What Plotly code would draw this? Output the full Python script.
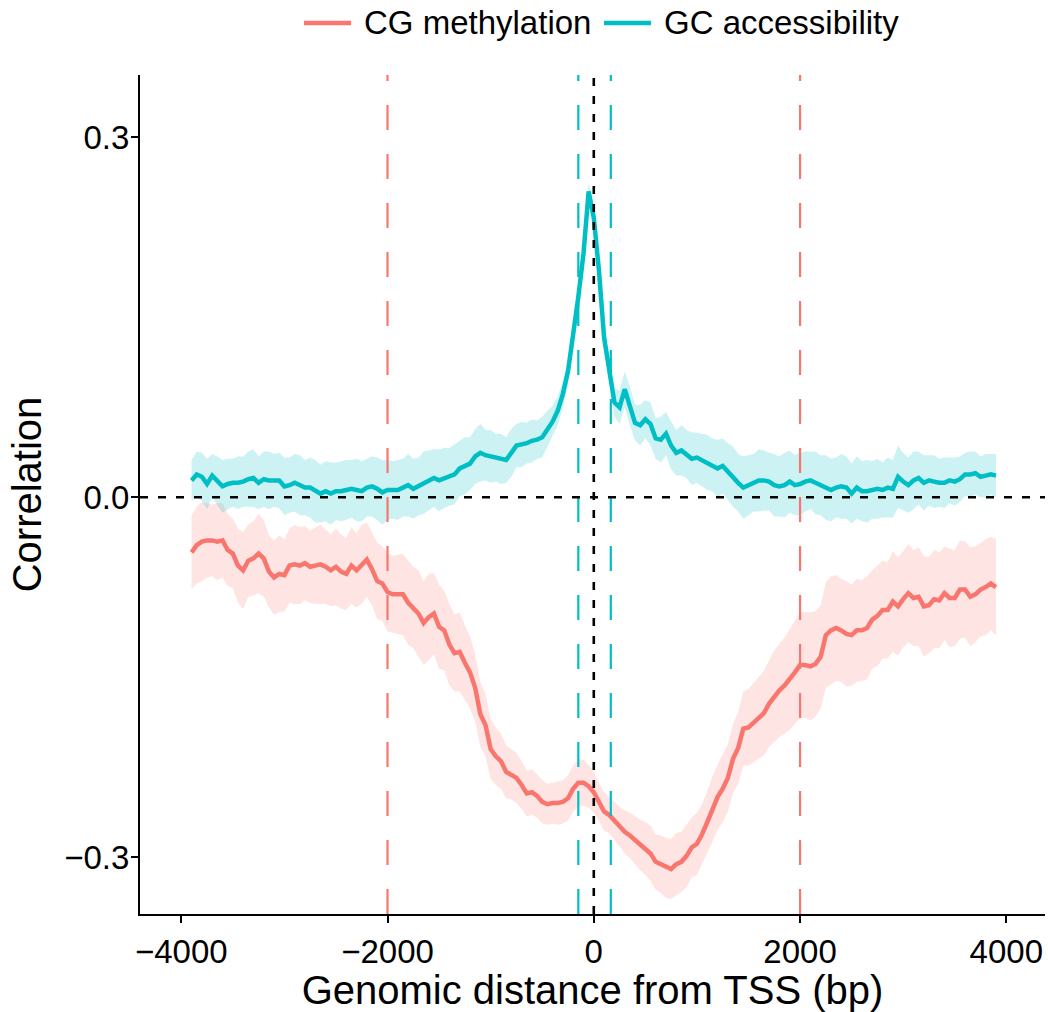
import plotly.graph_objects as go

# Genomic position of each window centre relative to the TSS (bp), 50 bp steps
positions = list(range(-3900, 3901, 50))

# Mean correlation of CG methylation with expression
cg_methylation = [
    -0.046, -0.040, -0.037, -0.036, -0.036, -0.037, -0.036, -0.044, -0.047, -0.057,
    -0.061, -0.053, -0.051, -0.047, -0.051, -0.062, -0.067, -0.064, -0.065, -0.057,
    -0.056, -0.057, -0.055, -0.058, -0.057, -0.056, -0.058, -0.061, -0.058, -0.062,
    -0.064, -0.057, -0.061, -0.056, -0.052, -0.060, -0.070, -0.072, -0.079, -0.081,
    -0.081, -0.081, -0.088, -0.092, -0.097, -0.105, -0.100, -0.097, -0.108, -0.111,
    -0.123, -0.130, -0.129, -0.138, -0.146, -0.159, -0.181, -0.190, -0.210, -0.216,
    -0.220, -0.229, -0.231, -0.234, -0.240, -0.247, -0.246, -0.249, -0.254, -0.256,
    -0.255, -0.255, -0.254, -0.251, -0.243, -0.238, -0.238, -0.241, -0.246, -0.254,
    -0.262, -0.265, -0.270, -0.275, -0.279, -0.282, -0.286, -0.290, -0.293, -0.297,
    -0.304, -0.306, -0.309, -0.310, -0.306, -0.304, -0.299, -0.292, -0.289, -0.281,
    -0.271, -0.260, -0.250, -0.243, -0.234, -0.218, -0.209, -0.193, -0.192, -0.188,
    -0.184, -0.180, -0.172, -0.166, -0.161, -0.157, -0.152, -0.146, -0.140, -0.140,
    -0.141, -0.139, -0.133, -0.115, -0.111, -0.109, -0.111, -0.114, -0.115, -0.111,
    -0.111, -0.109, -0.102, -0.099, -0.094, -0.094, -0.087, -0.091, -0.085, -0.080,
    -0.084, -0.083, -0.091, -0.090, -0.085, -0.086, -0.080, -0.084, -0.084, -0.077,
    -0.077, -0.083, -0.081, -0.077, -0.075, -0.072, -0.075,
]
cg_methylation_se = [
    0.031, 0.032, 0.033, 0.031, 0.030, 0.032, 0.031, 0.030, 0.029, 0.031,
    0.032, 0.030, 0.031, 0.033, 0.032, 0.030, 0.031, 0.032, 0.030, 0.031,
    0.033, 0.032, 0.031, 0.030, 0.032, 0.033, 0.031, 0.030, 0.032, 0.031,
    0.030, 0.032, 0.031, 0.033, 0.031, 0.030, 0.032, 0.031, 0.033, 0.032,
    0.033, 0.034, 0.035, 0.034, 0.036, 0.035, 0.036, 0.034, 0.035, 0.033,
    0.034, 0.032, 0.033, 0.031, 0.030, 0.028, 0.027, 0.026, 0.025, 0.024,
    0.023, 0.022, 0.021, 0.021, 0.020, 0.019, 0.019, 0.018, 0.018, 0.017,
    0.017, 0.018, 0.018, 0.019, 0.019, 0.020, 0.019, 0.018, 0.017, 0.016,
    0.016, 0.015, 0.016, 0.017, 0.018, 0.019, 0.020, 0.021, 0.022, 0.023,
    0.023, 0.024, 0.025, 0.025, 0.026, 0.025, 0.026, 0.025, 0.026, 0.025,
    0.026, 0.027, 0.027, 0.028, 0.028, 0.029, 0.030, 0.031, 0.032, 0.033,
    0.034, 0.035, 0.036, 0.038, 0.039, 0.040, 0.042, 0.043, 0.044, 0.044,
    0.045, 0.044, 0.043, 0.044, 0.045, 0.044, 0.043, 0.044, 0.042, 0.043,
    0.042, 0.043, 0.041, 0.042, 0.041, 0.040, 0.042, 0.041, 0.040, 0.041,
    0.040, 0.041, 0.042, 0.040, 0.041, 0.040, 0.039, 0.041, 0.040, 0.041,
    0.040, 0.041, 0.040, 0.039, 0.040, 0.039, 0.040,
]

# Mean correlation of GC accessibility with expression
gc_accessibility = [
    0.014, 0.019, 0.017, 0.011, 0.018, 0.014, 0.009, 0.011, 0.012, 0.012,
    0.013, 0.015, 0.016, 0.012, 0.015, 0.014, 0.014, 0.014, 0.009, 0.010,
    0.012, 0.010, 0.008, 0.008, 0.005, 0.003, 0.005, 0.003, 0.005, 0.005,
    0.006, 0.007, 0.006, 0.005, 0.008, 0.009, 0.007, 0.004, 0.006, 0.006,
    0.006, 0.008, 0.010, 0.007, 0.009, 0.012, 0.014, 0.016, 0.014, 0.016,
    0.017, 0.019, 0.024, 0.026, 0.028, 0.034, 0.037, 0.035, 0.034, 0.033,
    0.032, 0.031, 0.037, 0.043, 0.044, 0.045, 0.047, 0.048, 0.050, 0.057,
    0.063, 0.072, 0.086, 0.105, 0.133, 0.167, 0.203, 0.255, 0.233, 0.189,
    0.133, 0.105, 0.079, 0.075, 0.090, 0.076, 0.062, 0.060, 0.065, 0.061,
    0.049, 0.048, 0.053, 0.043, 0.037, 0.039, 0.036, 0.032, 0.033, 0.031,
    0.029, 0.027, 0.024, 0.026, 0.021, 0.017, 0.012, 0.008, 0.010, 0.012,
    0.014, 0.014, 0.013, 0.010, 0.009, 0.010, 0.013, 0.010, 0.011, 0.013,
    0.014, 0.012, 0.010, 0.008, 0.006, 0.008, 0.009, 0.008, 0.003, 0.008,
    0.005, 0.005, 0.006, 0.007, 0.006, 0.008, 0.007, 0.017, 0.013, 0.010,
    0.014, 0.016, 0.012, 0.014, 0.013, 0.012, 0.012, 0.014, 0.013, 0.015,
    0.019, 0.019, 0.020, 0.017, 0.018, 0.019, 0.018,
]
gc_accessibility_se = [
    0.017, 0.019, 0.020, 0.021, 0.018, 0.020, 0.022, 0.021, 0.020, 0.022,
    0.021, 0.023, 0.024, 0.022, 0.023, 0.024, 0.022, 0.023, 0.024, 0.023,
    0.024, 0.025, 0.023, 0.025, 0.026, 0.024, 0.025, 0.026, 0.024, 0.025,
    0.025, 0.024, 0.026, 0.025, 0.024, 0.025, 0.026, 0.027, 0.025, 0.024,
    0.025, 0.024, 0.026, 0.025, 0.024, 0.026, 0.025, 0.024, 0.026, 0.025,
    0.024, 0.025, 0.023, 0.024, 0.022, 0.023, 0.024, 0.021, 0.022, 0.020,
    0.021, 0.019, 0.020, 0.018, 0.019, 0.017, 0.018, 0.016, 0.017, 0.015,
    0.013, 0.012, 0.011, 0.010, 0.010, 0.009, 0.009, 0.008, 0.009, 0.010,
    0.010, 0.011, 0.012, 0.014, 0.015, 0.016, 0.015, 0.017, 0.016, 0.018,
    0.017, 0.019, 0.018, 0.020, 0.019, 0.021, 0.020, 0.022, 0.021, 0.022,
    0.023, 0.022, 0.024, 0.023, 0.024, 0.025, 0.024, 0.026, 0.025, 0.024,
    0.026, 0.025, 0.024, 0.026, 0.025, 0.027, 0.026, 0.025, 0.026, 0.025,
    0.024, 0.026, 0.025, 0.027, 0.026, 0.025, 0.027, 0.026, 0.025, 0.026,
    0.025, 0.026, 0.024, 0.025, 0.023, 0.025, 0.024, 0.026, 0.024, 0.023,
    0.024, 0.022, 0.023, 0.021, 0.022, 0.020, 0.021, 0.019, 0.020, 0.019,
    0.018, 0.019, 0.018, 0.017, 0.018, 0.017, 0.018,
]

# Window boundaries marked on the plot (bp)
cg_window = [-2000, 2000]
gc_window = [-150, 165]

# Axis ticks
x_ticks = [-4000, -2000, 0, 2000, 4000]
x_tick_labels = ["\u22124000", "\u22122000", "0", "2000", "4000"]
y_ticks = [-0.3, 0.0, 0.3]
y_tick_labels = ["\u22120.3", "0.0", "0.3"]

RED = "#F8766D"
TEAL = "#00BFC4"
FONT = "Liberation Sans, Arial, sans-serif"

fig = go.Figure()


def add_band(values, se, fill):
    lower = [v - s for v, s in zip(values, se)]
    upper = [v + s for v, s in zip(values, se)]
    fig.add_trace(go.Scatter(x=positions, y=lower, mode="lines",
                             line=dict(width=0, color=fill), showlegend=False,
                             hoverinfo="skip"))
    fig.add_trace(go.Scatter(x=positions, y=upper, mode="lines",
                             line=dict(width=0, color=fill), fill="tonexty",
                             fillcolor=fill, showlegend=False, hoverinfo="skip"))


add_band(cg_methylation, cg_methylation_se, "rgba(248,118,109,0.2)")
add_band(gc_accessibility, gc_accessibility_se, "rgba(0,191,196,0.2)")

fig.add_trace(go.Scatter(x=positions, y=cg_methylation, mode="lines",
                         name="CG methylation", showlegend=False,
                         line=dict(color=RED, width=4.5)))
fig.add_trace(go.Scatter(x=positions, y=gc_accessibility, mode="lines",
                         name="GC accessibility", showlegend=False,
                         line=dict(color=TEAL, width=4.5)))

shapes = []
for xv in cg_window:
    shapes.append(dict(type="line", xref="x", yref="paper", x0=xv, x1=xv,
                       y0=0, y1=1, layer="above",
                       line=dict(color=RED, width=2.2, dash="25px,24px")))
for xv in gc_window:
    shapes.append(dict(type="line", xref="x", yref="paper", x0=xv, x1=xv,
                       y0=0, y1=1, layer="above",
                       line=dict(color=TEAL, width=2.2, dash="25px,24px")))
# TSS and zero-correlation reference lines
shapes.append(dict(type="line", xref="x", yref="paper", x0=0, x1=0, y0=0, y1=1,
                   layer="above",
                   line=dict(color="black", width=2.6, dash="8px,10px")))
shapes.append(dict(type="line", xref="paper", yref="y", x0=0, x1=1, y0=0, y1=0,
                   layer="above",
                   line=dict(color="black", width=2.6, dash="8px,10px")))

# Legend across the top: line key followed by the series name
legend_entries = [("CG methylation", RED, 0.1812), ("GC accessibility", TEAL, 0.5127)]
annotations = []
for label, color, x0 in legend_entries:
    shapes.append(dict(type="line", xref="paper", yref="paper",
                       x0=x0, x1=x0 + 0.052, y0=1.062, y1=1.062,
                       line=dict(color=color, width=4.5)))
    annotations.append(dict(text=label, xref="paper", yref="paper",
                            x=x0 + 0.064, y=1.062, xanchor="left",
                            yanchor="middle", showarrow=False,
                            font=dict(size=33, family=FONT, color="black")))

fig.update_layout(
    width=1048, height=1012,
    margin=dict(l=140, r=3, t=75, b=98),
    paper_bgcolor="white", plot_bgcolor="white",
    font=dict(family=FONT, color="black", size=33),
    shapes=shapes,
    annotations=annotations,
    showlegend=False,
    xaxis=dict(range=[-4400, 4375], tickvals=x_ticks, ticktext=x_tick_labels,
               showgrid=False, zeroline=False, showline=True, linecolor="black",
               linewidth=2, ticks="outside", ticklen=7, tickwidth=2,
               tickcolor="black", tickfont=dict(size=33),
               title=dict(text="Genomic distance from TSS (bp)",
                          font=dict(size=40), standoff=4)),
    yaxis=dict(range=[-0.3475, 0.352], tickvals=y_ticks, ticktext=y_tick_labels,
               showgrid=False, zeroline=False, showline=True, linecolor="black",
               linewidth=2, ticks="outside", ticklen=7, tickwidth=2,
               tickcolor="black", tickfont=dict(size=33), ticklabelstandoff=-5,
               title=dict(text="Correlation", font=dict(size=40), standoff=10)),
)

fig.write_html("out.html")
